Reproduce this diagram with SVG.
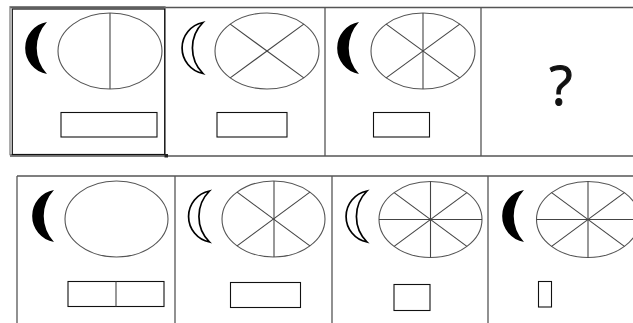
<svg xmlns="http://www.w3.org/2000/svg" xmlns:xlink="http://www.w3.org/1999/xlink" width="633" height="323" viewBox="0 0 633 323">
<style>
.grid{stroke:#555;stroke-width:1.3;fill:none}
.ell{fill:#fff;stroke:#555;stroke-width:1.1}
.sp{stroke:#444;stroke-width:1.1}
.box{fill:#fff;stroke:#111;stroke-width:1.1}
.cf{fill:#000}
.co{fill:#fff;stroke:#000;stroke-width:1.7}
.q{font-family:"Open Sans","Liberation Sans",sans-serif;font-size:54px;fill:#111;stroke:#111;stroke-width:1}
</style>
<defs>
<path id="cres" d="M22,0 A26.4,26.4 0 0 0 22,52 A38,38 0 0 1 22,0 Z"/>
<path id="cres2" d="M21,0 A26,26 0 0 0 21,51 A36,36 0 0 1 21,0 Z"/>
</defs>
<rect width="633" height="323" fill="#fff"/>
<g id="grid">
<line class="grid" x1="10" y1="7.5" x2="633" y2="7.5"/>
<line class="grid" x1="10" y1="156" x2="633" y2="156" stroke="#111"/>
<line class="grid" x1="325" y1="7.5" x2="325" y2="156"/>
<line class="grid" x1="481" y1="7.5" x2="481" y2="156"/>
<line class="grid" x1="17" y1="176" x2="633" y2="176" stroke="#222"/>
<line class="grid" x1="17" y1="176" x2="17" y2="323"/>
<line class="grid" x1="175" y1="176" x2="175" y2="323"/>
<line class="grid" x1="332" y1="176" x2="332" y2="323"/>
<line class="grid" x1="488" y1="176" x2="488" y2="323"/>
</g>
<g id="cell-1">
<rect x="10" y="6.7" width="155" height="148" fill="none" stroke="#777" stroke-width="1.2"/>
<rect x="12.3" y="9" width="152.4" height="145.5" fill="none" stroke="#111" stroke-width="1.2"/>
<rect x="164.5" y="154" width="3.5" height="3.5" fill="#222"/>
<use href="#cres" class="cf" x="25" y="22"/>
<ellipse class="ell" cx="110" cy="51" rx="52" ry="38"/>
<line class="sp" x1="110" y1="13" x2="110" y2="89" stroke="#000"/>
<rect class="box" x="61" y="112.5" width="96" height="24.5"/>
</g>
<g id="cell-2">
<use href="#cres2" class="co" x="182" y="22.5"/>
<ellipse class="ell" cx="267" cy="51" rx="52" ry="38"/>
<line class="sp" x1="230.2" y1="24.1" x2="303.8" y2="77.9"/>
<line class="sp" x1="230.2" y1="77.9" x2="303.8" y2="24.1"/>
<rect class="box" x="217" y="112.5" width="70" height="24.5"/>
</g>
<g id="cell-3">
<use href="#cres" class="cf" x="337" y="22"/>
<ellipse class="ell" cx="423" cy="51" rx="52" ry="38"/>
<line class="sp" x1="423" y1="13" x2="423" y2="89"/>
<line class="sp" x1="386.2" y1="24.1" x2="459.8" y2="77.9"/>
<line class="sp" x1="386.2" y1="77.9" x2="459.8" y2="24.1"/>
<rect class="box" x="373.5" y="112.5" width="56" height="24.5"/>
</g>
<g id="cell-4">
<text class="q" x="561" y="105" text-anchor="middle">?</text>
</g>
<g id="option-1">
<use href="#cres" class="cf" x="32" y="190"/>
<ellipse class="ell" cx="116.5" cy="219" rx="51.5" ry="38"/>
<rect class="box" x="68" y="281.5" width="96" height="25"/>
<line class="sp" x1="116" y1="281.5" x2="116" y2="306.5"/>
</g>
<g id="option-2">
<use href="#cres2" class="co" x="188.5" y="191"/>
<ellipse class="ell" cx="273.5" cy="219" rx="51.5" ry="38"/>
<line class="sp" x1="274" y1="181" x2="274" y2="257"/>
<line class="sp" x1="237.1" y1="192.1" x2="309.9" y2="245.9"/>
<line class="sp" x1="237.1" y1="245.9" x2="309.9" y2="192.1"/>
<rect class="box" x="230.5" y="282.5" width="70" height="25"/>
</g>
<g id="option-3">
<use href="#cres2" class="co" x="346" y="191"/>
<ellipse class="ell" cx="430.5" cy="219.5" rx="51.5" ry="38"/>
<line class="sp" x1="430.5" y1="181.5" x2="430.5" y2="257.5"/>
<line class="sp" x1="379" y1="219.5" x2="482" y2="219.5"/>
<line class="sp" x1="394.1" y1="192.6" x2="466.9" y2="246.4"/>
<line class="sp" x1="394.1" y1="246.4" x2="466.9" y2="192.6"/>
<rect class="box" x="394" y="284.5" width="36" height="26"/>
</g>
<g id="option-4">
<use href="#cres" class="cf" x="502" y="190"/>
<ellipse class="ell" cx="588" cy="219.5" rx="51.5" ry="38"/>
<line class="sp" x1="588" y1="181.5" x2="588" y2="257.5"/>
<line class="sp" x1="536.5" y1="219.5" x2="639.5" y2="219.5"/>
<line class="sp" x1="551.6" y1="192.6" x2="624.4" y2="246.4"/>
<line class="sp" x1="551.6" y1="246.4" x2="624.4" y2="192.6"/>
<rect class="box" x="538.5" y="281.5" width="13" height="25.5"/>
</g>
</svg>
